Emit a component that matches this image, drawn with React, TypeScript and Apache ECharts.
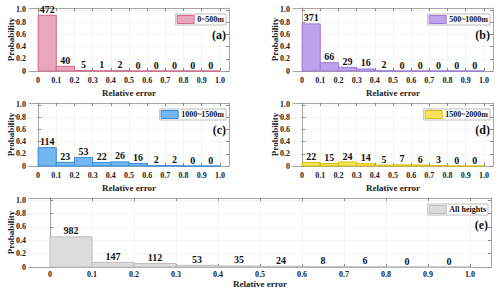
import React, { useEffect, useRef } from "react";
import * as echarts from "echarts";

const binStarts = [0, 0.1, 0.2, 0.3, 0.4, 0.5, 0.6, 0.7, 0.8, 0.9];
const binWidth = 0.1;
const xTickValues = [0, 0.1, 0.2, 0.3, 0.4, 0.5, 0.6, 0.7, 0.8, 0.9, 1.0];
const yTickValues = [0, 0.2, 0.4, 0.6, 0.8, 1.0];

const panelNames = ["0~500m", "500~1000m", "1000~1500m", "1500~2000m", "All heights"];
const panelTags = ["(a)", "(b)", "(c)", "(d)", "(e)"];

const countsA = [472, 40, 5, 1, 2, 0, 0, 0, 0, 0];
const probA = [0.91, 0.077, 0.01, 0.002, 0.004, 0, 0, 0, 0, 0];
const countsB = [371, 66, 29, 16, 2, 0, 0, 0, 0, 0];
const probB = [0.77, 0.137, 0.06, 0.033, 0.004, 0, 0, 0, 0, 0];
const countsC = [114, 23, 53, 22, 26, 16, 2, 2, 0, 0];
const probC = [0.3, 0.06, 0.14, 0.058, 0.068, 0.042, 0.005, 0.005, 0, 0];
const countsD = [22, 15, 24, 14, 5, 7, 6, 3, 0, 0];
const probD = [0.06, 0.041, 0.065, 0.038, 0.014, 0.019, 0.016, 0.008, 0, 0];
const countsE = [982, 147, 112, 53, 35, 24, 8, 6, 0, 0];
const probE = [0.45, 0.069, 0.052, 0.025, 0.016, 0.011, 0.004, 0.003, 0, 0];

const allCounts = [countsA, countsB, countsC, countsD, countsE];
const allProbs = [probA, probB, probC, probD, probE];

const fills = ["#eba6be", "#bba4ea", "#72b6f2", "#f7e35a", "#dcdcdc"];
const strokes = ["#d4688d", "#9b7bd8", "#3b8fdc", "#d9bd10", "#bdbdbd"];

const FONT = "'Liberation Serif', 'Times New Roman', serif";

// layout (pixels) for each panel grid
const grids = [
  { left: 29, top: 8, width: 200, height: 63 },
  { left: 293, top: 8, width: 200, height: 63 },
  { left: 29, top: 103, width: 200, height: 63 },
  { left: 293, top: 103, width: 200, height: 63 },
  { left: 29, top: 198, width: 462, height: 69 },
];
const xLabelMargins = [5, 5, 5, 5, 3];
const xNameGaps = [17, 17, 17, 17, 12];

const fmt = (v: number) => (Math.abs(v) < 1e-9 ? "0" : v.toFixed(1));

export default function App() {
  const ref = useRef<HTMLDivElement>(null);
  useEffect(() => {
    document.body.style.margin = "0";
    if (!ref.current) return;
    const chart = echarts.init(ref.current, null, { renderer: "svg" });
    const axisLineColor = "#a6a6a6";
    const xAxes: any[] = [];
    const yAxes: any[] = [];
    const series: any[] = [];
    const legends: any[] = [];
    const titles: any[] = [];
    grids.forEach((g, i) => {
      xAxes.push({
        type: "value",
        gridIndex: i,
        min: -0.05,
        max: 1.05,
        interval: 0.05,
        name: "Relative error",
        nameLocation: "middle",
        nameGap: xNameGaps[i],
        nameMoveOverlap: false,
        nameTextStyle: { fontFamily: FONT, fontWeight: "bold", fontSize: 9, color: "#222" },
        axisLine: { show: true, onZero: false, lineStyle: { color: axisLineColor, width: 1 } },
        axisTick: { show: true, inside: true, length: 3, customValues: xTickValues, lineStyle: { color: "#888" } },
        axisLabel: {
          show: true,
          customValues: xTickValues,
          formatter: (v: number) => fmt(v),
          margin: xLabelMargins[i],
          fontFamily: FONT,
          fontWeight: "bold",
          fontSize: 8,
          color: "#222",
        },
        splitLine: { show: true, lineStyle: { color: "#ececec", width: 0.6 } },
      });
      yAxes.push({
        type: "value",
        gridIndex: i,
        min: 0,
        max: 1.03,
        interval: 0.1,
        name: "Probability",
        nameLocation: "middle",
        nameGap: 14,
        nameMoveOverlap: false,
        nameTextStyle: { fontFamily: FONT, fontWeight: "bold", fontSize: 9, color: "#222" },
        axisLine: { show: true, lineStyle: { color: axisLineColor, width: 1 } },
        axisTick: { show: true, inside: true, length: 3, customValues: yTickValues, lineStyle: { color: "#888" } },
        axisLabel: {
          show: true,
          customValues: yTickValues,
          formatter: (v: number) => fmt(v),
          margin: 3,
          fontFamily: FONT,
          fontWeight: "bold",
          fontSize: 8,
          color: "#222",
        },
        splitLine: { show: true, lineStyle: { color: "#ececec", width: 0.6 } },
      });
    });
    // secondary (box) axes
    grids.forEach((g, i) => {
      xAxes.push({
        type: "value",
        gridIndex: i,
        position: "top",
        min: -0.05,
        max: 1.05,
        interval: 0.05,
        axisLine: { show: true, onZero: false, lineStyle: { color: axisLineColor, width: 1 } },
        axisTick: { show: true, inside: true, length: 3, customValues: xTickValues, lineStyle: { color: "#888" } },
        axisLabel: { show: false },
        splitLine: { show: false },
      });
      yAxes.push({
        type: "value",
        gridIndex: i,
        position: "right",
        min: 0,
        max: 1.03,
        interval: 0.1,
        axisLine: { show: true, onZero: false, lineStyle: { color: axisLineColor, width: 1 } },
        axisTick: { show: true, inside: true, length: 3, customValues: yTickValues, lineStyle: { color: "#888" } },
        axisLabel: { show: false },
        splitLine: { show: false },
      });
    });
    grids.forEach((g, i) => {
      const fill = fills[i];
      const stroke = strokes[i];
      const data = binStarts.map((s, k) => [s, s + binWidth, allProbs[i][k], allCounts[i][k]]);
      series.push({
        type: "custom",
        name: panelNames[i],
        xAxisIndex: i,
        yAxisIndex: i,
        itemStyle: { color: fill, borderColor: stroke },
        data,
        clip: false,
        z: 5,
        renderItem: (params: any, api: any) => {
          const x0 = api.value(0);
          const x1 = api.value(1);
          const p = api.value(2);
          const c = api.value(3);
          const tl = api.coord([x0, p]);
          const br = api.coord([x1, 0]);
          return {
            type: "group",
            children: [
              {
                type: "rect",
                shape: { x: tl[0], y: tl[1], width: br[0] - tl[0], height: br[1] - tl[1] },
                style: { fill, stroke, lineWidth: 1 },
              },
              {
                type: "text",
                style: {
                  text: String(c),
                  x: (tl[0] + br[0]) / 2,
                  y: tl[1] - 1,
                  align: "center",
                  verticalAlign: "bottom",
                  fontFamily: FONT,
                  fontWeight: "bold",
                  fontSize: 10,
                  fill: "#111",
                },
              },
            ],
          };
        },
      });
      legends.push({
        data: [{ name: panelNames[i], icon: "rect", itemStyle: { color: fill, borderColor: stroke, borderWidth: 1 } }],
        right: 500 - (g.left + g.width) + 3,
        top: g.top + 6,
        itemWidth: 17,
        itemHeight: 8,
        itemGap: 0,
        padding: [1, 2, 1, 1],
        borderColor: "#bdbdbd",
        borderWidth: 1,
        backgroundColor: "#ffffff",
        selectedMode: false,
        textStyle: { fontFamily: FONT, fontWeight: "bold", fontSize: 8, color: "#111", padding: [0, 0, 0, -2] },
      });
      titles.push({
        text: panelTags[i],
        right: 500 - (g.left + g.width) + 3,
        top: g.top + 21,
        padding: 0,
        textStyle: { fontFamily: FONT, fontWeight: "bold", fontSize: 12, color: "#111" },
      });
    });
    chart.setOption({
      animation: false,
      backgroundColor: "#ffffff",
      grid: grids.map((g) => ({ ...g, containLabel: false, outerBoundsMode: "none" })),
      xAxis: xAxes,
      yAxis: yAxes,
      legend: legends,
      title: titles,
      series,
    });
    return () => chart.dispose();
  }, []);
  return <div ref={ref} style={{ width: 500, height: 295 }} />;
}
